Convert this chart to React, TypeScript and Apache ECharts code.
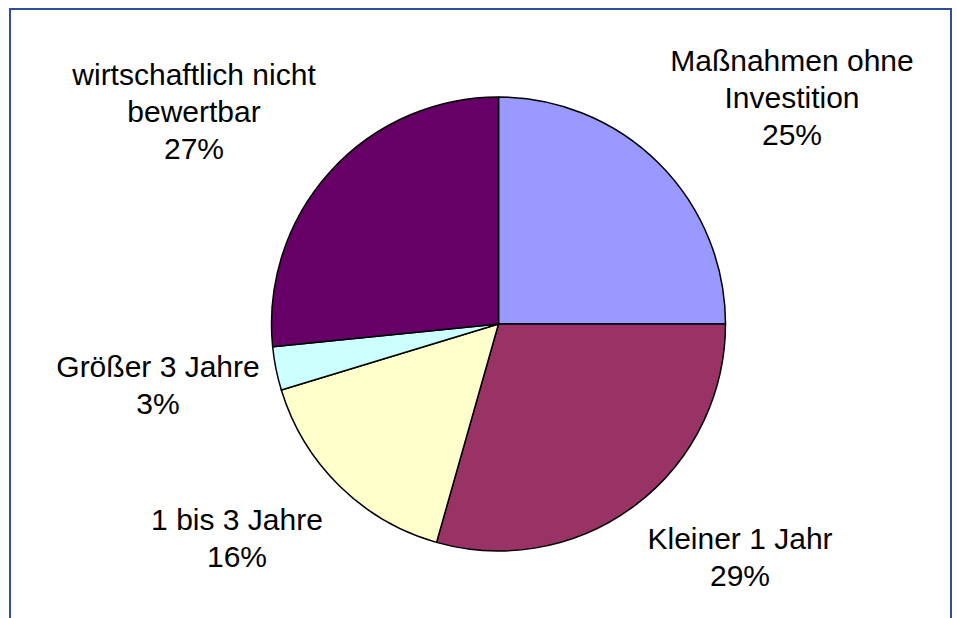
import React, { useEffect, useRef } from "react";
import * as echarts from "echarts";

const categories = [
  "Maßnahmen ohne\nInvestition",
  "Kleiner 1 Jahr",
  "1 bis 3 Jahre",
  "Größer 3 Jahre",
  "wirtschaftlich nicht\nbewertbar",
];
const values = [25.0, 29.4, 15.9, 3.1, 26.6];
const colors = ["#9999FF", "#993366", "#FFFFCC", "#CCFFFF", "#660066"];

// label anchor points (centre of each label block)
const labelPos: [number, number][] = [
  [792, 97],
  [740, 557],
  [237, 538],
  [158, 385],
  [194, 111],
];

export default function App() {
  const ref = useRef<HTMLDivElement>(null);
  useEffect(() => {
    if (!ref.current) return;
    const chart = echarts.init(ref.current, null, { renderer: "svg" });
    const total = values.reduce((a, b) => a + b, 0);
    chart.setOption({
      animation: false,
      backgroundColor: "#ffffff",
      graphic: [
        {
          type: "polyline",
          shape: {
            points: [
              [10, 620],
              [10, 9],
              [951, 9],
              [951, 620],
            ],
          },
          style: { stroke: "#2E4E9E", lineWidth: 2, fill: "none" },
          silent: true,
        },
      ],
      series: [
        {
          type: "pie",
          center: [498.5, 324],
          radius: 227,
          startAngle: 90,
          clockwise: true,
          avoidLabelOverlap: false,
          data: categories.map((name, i) => ({
            name,
            value: values[i],
            itemStyle: { color: colors[i] },
          })),
          itemStyle: { borderColor: "#000000", borderWidth: 1.5 },
          label: {
            show: true,
            position: "outside",
            color: "#000000",
            fontFamily: "Liberation Sans, Arial, sans-serif",
            fontSize: 30,
            lineHeight: 37,
            align: "center",
            formatter: (p: any) =>
              `${p.name}\n${Math.round((p.value / total) * 100)}%`,
          },
          labelLine: { show: false },
          labelLayout: (params: any) => ({
            x: labelPos[params.dataIndex][0],
            y: labelPos[params.dataIndex][1],
            align: "center",
            verticalAlign: "middle",
          }),
          emphasis: { disabled: true },
        },
      ],
    });
    return () => chart.dispose();
  }, []);
  return (
    <div
      ref={ref}
      style={{ position: "fixed", left: 0, top: 0, width: 957, height: 618 }}
    />
  );
}
